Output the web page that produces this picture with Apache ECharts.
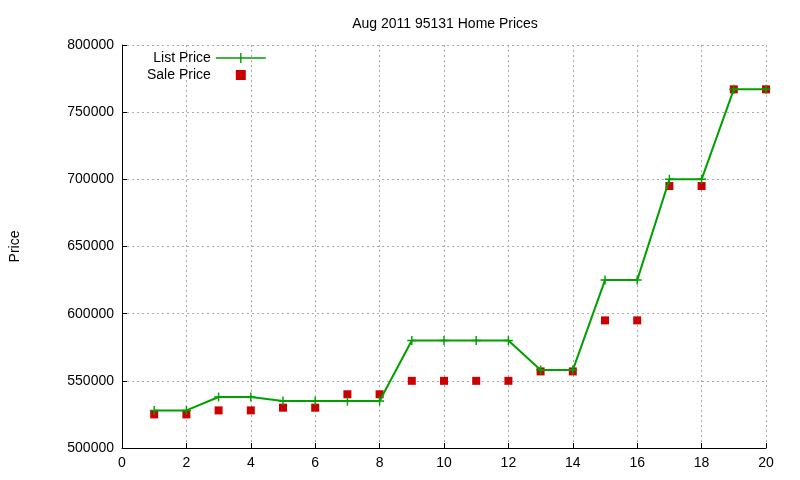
<!DOCTYPE html>
<html><head><meta charset="utf-8">
<script src="https://cdn.jsdelivr.net/npm/echarts@6/dist/echarts.min.js"></script>
<style>html,body{margin:0;padding:0;background:#fff}#c{width:800px;height:480px}</style>
</head><body><div id="c"></div>
<script>
const xs = [1,2,3,4,5,6,7,8,9,10,11,12,13,14,15,16,17,18,19,20];
const listPrice = [528000,528000,538000,538000,535000,535000,535000,535000,580000,580000,580000,580000,558000,558000,625000,625000,700000,700000,767000,767000];
const salePrice = [525000,525000,528000,528000,530000,530000,540000,540000,550000,550000,550000,550000,557000,557000,595000,595000,695000,695000,767000,767000];
const chart = echarts.init(document.getElementById('c'));
const font = 'Liberation Sans';
chart.setOption({
  animation:false,
  textStyle:{fontFamily:font},
  title:{text:'Aug 2011 95131 Home Prices',left:440,top:12,textAlign:'center',textStyle:{fontSize:14,fontWeight:'normal',color:'#000',fontFamily:font}},
  legend:{orient:'vertical',left:142,top:46,align:'right',itemGap:3,itemWidth:50,itemHeight:10,
    textStyle:{fontSize:14,color:'#000',fontFamily:font},
    data:[{name:'List Price',icon:'path://M0,4.3L50,4.3L50,5.7L0,5.7ZM24.3,0L25.7,0L25.7,10L24.3,10Z'},
          {name:'Sale Price',icon:'path://M21,1L29,1L29,9L21,9Z'}]},
  grid:{left:120,right:34,top:45,bottom:32},
  xAxis:{type:'value',min:0,max:20,interval:2,
    axisLine:{show:true,onZero:false,lineStyle:{color:'#000'}},
    axisTick:{inside:true,lineStyle:{color:'#000'}},
    axisLabel:{color:'#000',fontSize:14,fontFamily:font},
    splitLine:{show:true,lineStyle:{color:'#aaa',type:[2,3]}}},
  yAxis:{type:'value',min:500000,max:800000,interval:50000,name:'Price',nameLocation:'middle',nameGap:100,
    nameTextStyle:{color:'#000',fontSize:14,fontFamily:font},
    axisLine:{show:true,lineStyle:{color:'#000'}},
    axisTick:{inside:true,lineStyle:{color:'#000'}},
    axisLabel:{color:'#000',fontSize:14,fontFamily:font,formatter:v=>String(v)},
    splitLine:{show:true,lineStyle:{color:'#aaa',type:[2,3]}}},
  series:[
    {name:'List Price',type:'line',data:xs.map((x,i)=>[x,listPrice[i]]),color:'#00a000',
     lineStyle:{width:2,color:'#00a000'},symbol:'path://M4.2,0L5.8,0L5.8,10L4.2,10ZM0,4.2L10,4.2L10,5.8L0,5.8Z',symbolSize:9,
     itemStyle:{color:'#00a000'}},
    {name:'Sale Price',type:'scatter',data:xs.map((x,i)=>[x,salePrice[i]]),color:'#cc0000',
     symbol:'rect',symbolSize:8,itemStyle:{color:'#cc0000',opacity:1}}
  ]
});
</script></body></html>
